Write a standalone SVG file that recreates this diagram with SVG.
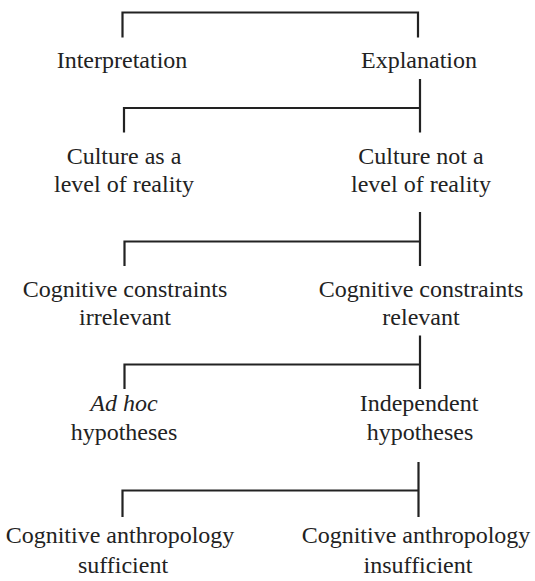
<svg xmlns="http://www.w3.org/2000/svg" width="535" height="581" viewBox="0 0 535 581">
<style>
  .bg { fill: #ffffff; }
  .lbl { font-family: 'Liberation Serif', 'DejaVu Serif', 'Times New Roman', serif; font-size: 24px; fill: #222222; text-anchor: middle; }
  .it { font-style: italic; }
  .conn { fill: none; stroke: #222222; stroke-width: 2.2; stroke-linecap: butt; stroke-linejoin: miter; }
</style>
<rect class="bg" x="0" y="0" width="535" height="581"/>
<g id="connectors">
  <path class="conn" d="M122.5,37.5 V12.5 H418 V37.5"/>
  <path class="conn" d="M420,79 V132.5 M420,108 H124 V132.5"/>
  <path class="conn" d="M420,212 V266 M420,241.5 H124.5 V266"/>
  <path class="conn" d="M420,335.5 V389 M420,364.5 H124.5 V389"/>
  <path class="conn" d="M418.5,462 V517 M418.5,490.5 H122.5 V517"/>
</g>
<g font-family="Liberation Serif, DejaVu Serif, serif">
<g id="n-interpretation"><text class="lbl" x="122" y="68">Interpretation</text></g>
<g id="n-explanation"><text class="lbl" x="419" y="68">Explanation</text></g>
<g id="n-culture-level"><text class="lbl" x="124" y="164">Culture as a</text><text class="lbl" x="124" y="192">level of reality</text></g>
<g id="n-culture-not-level"><text class="lbl" x="421" y="164">Culture not a</text><text class="lbl" x="421" y="192">level of reality</text></g>
<g id="n-constraints-irrelevant"><text class="lbl" x="125" y="297">Cognitive constraints</text><text class="lbl" x="125" y="325">irrelevant</text></g>
<g id="n-constraints-relevant"><text class="lbl" x="421" y="297">Cognitive constraints</text><text class="lbl" x="421" y="325">relevant</text></g>
<g id="n-adhoc"><text class="lbl it" x="124" y="411">Ad hoc</text><text class="lbl" x="124" y="440">hypotheses</text></g>
<g id="n-independent"><text class="lbl" x="419" y="411">Independent</text><text class="lbl" x="420" y="440">hypotheses</text></g>
<g id="n-sufficient"><text class="lbl" x="120" y="543">Cognitive anthropology</text><text class="lbl" x="123" y="573">sufficient</text></g>
<g id="n-insufficient"><text class="lbl" x="416" y="543">Cognitive anthropology</text><text class="lbl" x="418" y="573">insufficient</text></g>
</g>
</svg>
